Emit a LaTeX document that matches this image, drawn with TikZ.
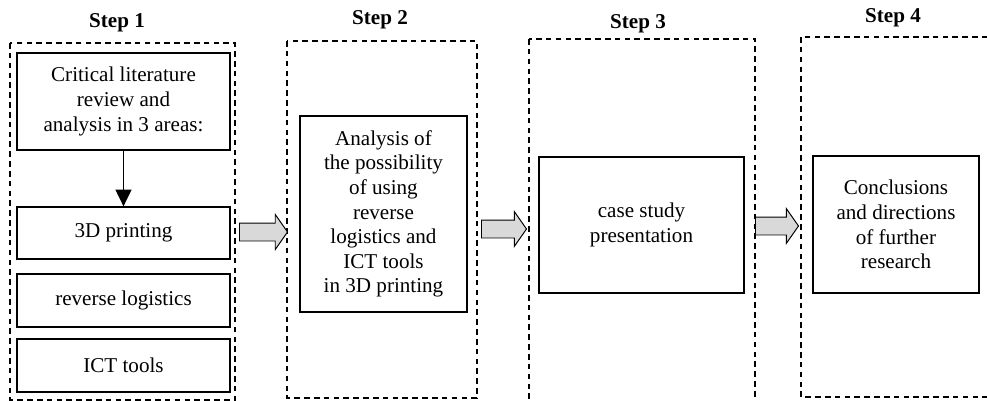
\documentclass[tikz,border=0pt]{standalone}
\usepackage{fontspec}
\setmainfont{Liberation Serif}
\usetikzlibrary{shapes.arrows,arrows.meta}

\begin{document}
\begin{tikzpicture}
    [
  x=0.025cm,
  y=-0.025cm,
  box/.style={
    draw,
    line width=0.9pt,
    align=center,
    inner sep=0pt,
    font=\fontsize{15}{17.5}\selectfont
  },
  stepframe/.style={
    draw,
    line width=0.8pt,
    dash pattern=on 4pt off 3pt
  },
  steplabel/.style={
    anchor=base,
    font=\fontsize{15}{18}\selectfont\bfseries
  },
  blockarrow/.style={
    single arrow,
    draw,
    fill=gray!30,
    line width=0.7pt,
    anchor=tail,
    inner sep=0pt,
    inner ysep=0.2125cm,
    single arrow head extend=0.2125cm,
    single arrow tip angle=110
  }
  ]
  \clip (0,0) rectangle (987,401);

  % dashed frames of the steps
  \draw [stepframe] (10,43) rectangle (235,400);
  \draw [stepframe] (287,41) rectangle (477,398);
  \draw [stepframe] (529,39) rectangle (755,405);
  \draw [stepframe] (801,37) rectangle (992,397);

  \node (l1) at (117,27) [steplabel] {Step 1};
  \node (l2) at (380,24) [steplabel] {Step 2};
  \node (l3) at (638,28) [steplabel] {Step 3};
  \node (l4) at (893,22) [steplabel] {Step 4};

  % step 1
  \node (crit) at (123.5,101.5) [box, minimum width=5.325cm, minimum height=2.425cm]
    {Critical literature\\review and\\analysis in 3 areas:};
  \node (p3d) at (123.5,233) [box, minimum width=5.325cm, minimum height=1.3cm] {3D printing};
  \node (rlog) at (123.5,300.5) [box, minimum width=5.325cm, minimum height=1.325cm] {reverse logistics};
  \node (ict) at (123.5,365.5) [box, minimum width=5.325cm, minimum height=1.325cm] {ICT tools};
  \draw [-{Triangle[length=0.42cm,width=0.4cm]}, line width=1pt] (crit) -- (p3d);

  % steps 2 to 4
  \node (anal) at (383.5,214) [box, minimum width=4.175cm, minimum height=4.9cm]
    {Analysis of\\the possibility\\of using\\reverse\\logistics and\\ICT tools\\in 3D printing};
  \node (cases) at (641.5,225) [box, minimum width=5.125cm, minimum height=3.4cm]
    {case study\\presentation};
  \node (concl) at (896,224.5) [box, minimum width=4.15cm, minimum height=3.425cm]
    {Conclusions\\and directions\\of further\\research};

  % block arrows between the steps
  \node (a12) at (239,232) [blockarrow, minimum height=1.2cm] {};
  \node (a23) at (481,229) [blockarrow, minimum height=1.125cm] {};
  \node (a34) at (755,226) [blockarrow, minimum height=1.075cm] {};
\end{tikzpicture}
\end{document}
